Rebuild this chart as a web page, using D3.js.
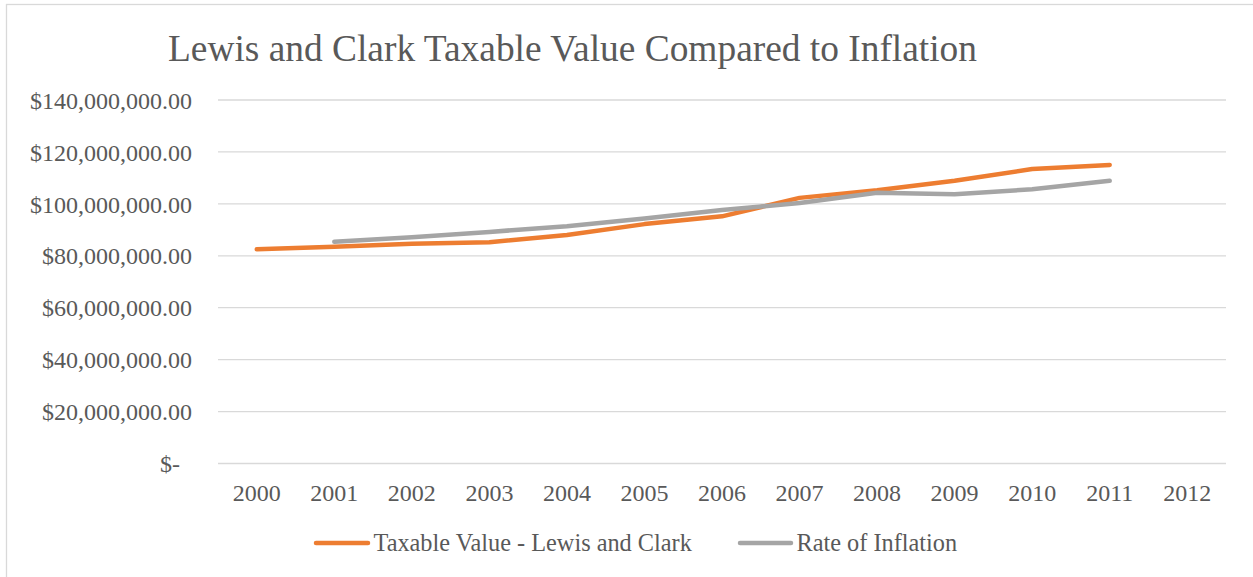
<!DOCTYPE html>
<html>
<head>
<meta charset="utf-8">
<script src="https://cdn.jsdelivr.net/npm/d3@7"></script>
</head>
<body style="margin:0;padding:0;background:#fff">
<svg id="chart" width="1253" height="577" style="display:block"></svg>
<script>
const years = ["2000","2001","2002","2003","2004","2005","2006","2007","2008","2009","2010","2011","2012"];
const taxableValue = [82.5e6, 83.5e6, 84.6e6, 85.2e6, 88.0e6, 92.2e6, 95.2e6, 102.3e6, 105.2e6, 108.9e6, 113.4e6, 115.0e6, null];
const inflation = [null, 85.4e6, 87.1e6, 89.2e6, 91.4e6, 94.4e6, 97.6e6, 100.3e6, 104.3e6, 103.7e6, 105.6e6, 108.9e6, null];
const yTicks = [0, 20e6, 40e6, 60e6, 80e6, 100e6, 120e6, 140e6];
const seriesNames = ["Taxable Value - Lewis and Clark", "Rate of Inflation"];
const seriesColors = ["#ED7D31", "#A5A5A5"];
const title = "Lewis and Clark Taxable Value Compared to Inflation";

const FONT = "Liberation Serif";
const svg = d3.select("#chart");
const W = 1253, H = 577;
const plot = { left: 218, right: 1226, top: 100, bottom: 463.5 };

// frame
svg.append("rect").attr("x", 6.5).attr("y", 4.5).attr("width", W).attr("height", H)
  .attr("fill", "none").attr("stroke", "#D9D9D9").attr("stroke-width", 1.3);

const x = d3.scaleBand().domain(years).range([plot.left, plot.right]).padding(0);
const y = d3.scaleLinear().domain([0, 140e6]).range([plot.bottom, plot.top]);

// title
svg.append("text").attr("x", 572.5).attr("y", 61).attr("text-anchor", "middle")
  .attr("font-family", FONT).attr("font-size", 37.4)
  .attr("fill", "#595959").text(title);

// grid
svg.append("g").selectAll("line").data(yTicks).join("line")
  .attr("x1", plot.left).attr("x2", plot.right)
  .attr("y1", d => y(d)).attr("y2", d => y(d))
  .attr("stroke", "#D9D9D9").attr("stroke-width", 1.3);

// y axis labels
const fmt = d => d === 0 ? "$-" : "$" + d3.format(",.2f")(d);
const yAxis = d3.axisLeft(y).tickValues(yTicks).tickFormat(fmt).tickSize(0).tickPadding(0);
const gy = svg.append("g").attr("transform", `translate(192,0)`).call(yAxis);
gy.select(".domain").remove();
gy.attr("font-family", FONT).attr("font-size", 24);
gy.selectAll("text").attr("fill", "#595959").attr("font-family", FONT).attr("font-size", 24)
  .attr("dy", "0.34em")
  .attr("x", d => d === 0 ? -12 : 0);

// x axis labels
const xAxis = d3.axisBottom(x).tickSize(0).tickPadding(0);
const gx = svg.append("g").attr("transform", `translate(0,${plot.bottom})`).call(xAxis);
gx.select(".domain").remove();
gx.attr("font-family", FONT).attr("font-size", 24);
gx.selectAll("text").attr("fill", "#595959").attr("font-family", FONT).attr("font-size", 24)
  .attr("y", 29).attr("dy", "0.34em");

// lines
const cx = d => x(d) + x.bandwidth() / 2;
const line = d3.line().defined(d => d.v != null).x(d => cx(d.year)).y(d => y(d.v));
[taxableValue, inflation].forEach((vals, i) => {
  const pts = years.map((yr, j) => ({ year: yr, v: vals[j] }));
  svg.append("path").datum(pts).attr("d", line)
    .attr("fill", "none").attr("stroke", seriesColors[i]).attr("stroke-width", 4.5)
    .attr("stroke-linejoin", "round").attr("stroke-linecap", "round");
});

// legend
const legendY = 543;
const legendItems = [{ x0: 316, x1: 368, tx: 373.5 }, { x0: 740, x1: 791, tx: 796.5 }];
legendItems.forEach((it, i) => {
  svg.append("line").attr("x1", it.x0).attr("x2", it.x1).attr("y1", legendY).attr("y2", legendY)
    .attr("stroke", seriesColors[i]).attr("stroke-width", 4.5).attr("stroke-linecap", "round");
  svg.append("text").attr("x", it.tx).attr("y", legendY).attr("dy", "0.34em")
    .attr("font-family", FONT).attr("font-size", 24.3)
    .attr("fill", "#595959").text(seriesNames[i]);
});
</script>
</body>
</html>
